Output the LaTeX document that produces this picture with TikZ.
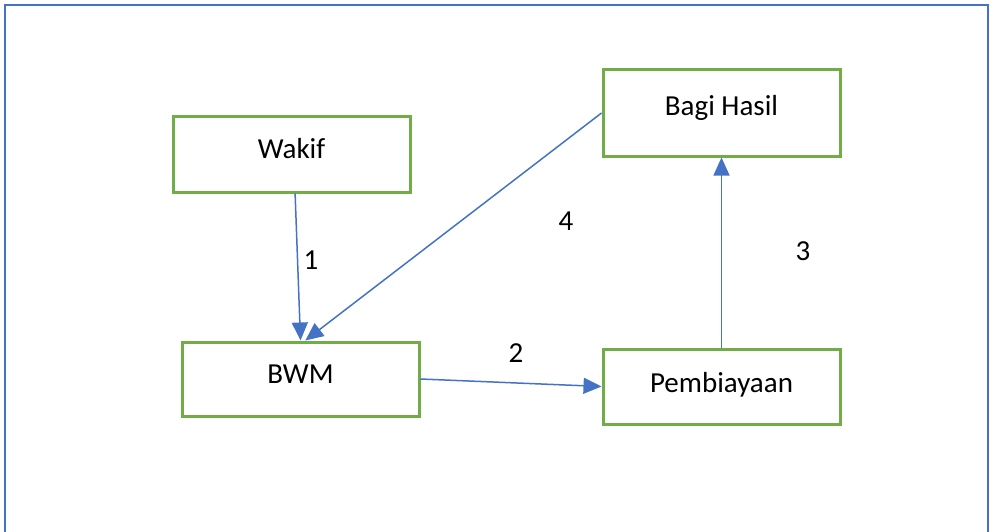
\documentclass[tikz,border=0pt]{standalone}
\usepackage{fontspec}
\setmainfont{Carlito}
\usetikzlibrary{arrows.meta,calc}
\definecolor{frameblue}{HTML}{4472C4}
\definecolor{boxgreen}{HTML}{70AD47}
\begin{document}
\begin{tikzpicture}[x=1pt,y=-1pt,
  box/.style={draw=boxgreen,line width=3pt,fill=white,minimum width=237pt,inner sep=0pt,font=\fontsize{29}{35}\selectfont},
  conn/.style={draw=frameblue,line width=1.5pt,-{Triangle[length=18pt,width=16pt]}},
  num/.style={font=\fontsize{29}{35}\selectfont,inner sep=0pt}]
\useasboundingbox (0,0) rectangle (990,532);
\draw[frameblue,line width=2.5pt] (5,540) -- (5,5) -- (988,5) -- (988,540);
\node[box,minimum height=75pt] (wakif) at (291.5,154.5) {\raisebox{12pt}{Wakif}};
\node[box,minimum height=86pt] (bagi) at (721.5,113) {\raisebox{15pt}{Bagi Hasil}};
\node[box,minimum height=74pt] (bwm) at (300.5,379) {\raisebox{9pt}{BWM}};
\node[box,minimum height=75pt] (pemb) at (721.5,386.5) {\raisebox{9pt}{Pembiayaan}};
\draw[conn] ($(wakif.south west)!0.515!(wakif.south east)$) -- ($(bwm.north west)!0.5!(bwm.north east)$);
\draw[conn] (bagi.west) -- ($(bwm.north west)!0.52!(bwm.north east)$);
\draw[conn] (bwm.east) -- (pemb.west);
\draw[conn] (pemb.north) -- (bagi.south);
\node[num] (n1) at (311,260) {1};
\node[num] (n2) at (516,353) {2};
\node[num] (n3) at (803,251) {3};
\node[num] (n4) at (566,221) {4};
\end{tikzpicture}
\end{document}
